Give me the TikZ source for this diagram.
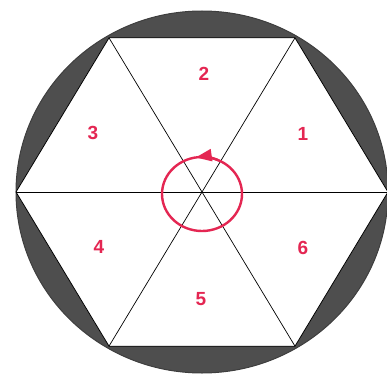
\documentclass[tikz,border=0pt]{standalone}
\usepackage{fontspec}
\setsansfont{Liberation Sans}
\usetikzlibrary{arrows.meta, calc}
\definecolor{rimgray}{RGB}{78,78,78}
\definecolor{numred}{RGB}{228,38,82}

\begin{document}
\begin{tikzpicture}[
  x=1pt, y=1pt,
  rim/.style={fill=rimgray, draw=rimgray!80!black, line width=1pt},
  hexa/.style={fill=white, draw=black, line width=0.8pt},
  spoke/.style={draw=black, line width=0.7pt},
  num/.style={text=numred, font=\fontsize{19}{19}\selectfont\sffamily\bfseries, inner sep=0pt},
  turn/.style={draw=numred, line width=2.4pt}
]
  \useasboundingbox (0,0) rectangle (387,-374);

  \coordinate (c) at (202,-192);
  % outer disc and hexagon
  \path[rim] (c) ellipse [x radius=186, y radius=181];
  \foreach \k in {0,...,5}
    \coordinate (v\k) at ($(c)+(\k*60:186 and 178)$);
  \path[hexa] (v0) -- (v1) -- (v2) -- (v3) -- (v4) -- (v5) -- cycle;
  \draw[spoke] (v0) -- (v3);
  \draw[spoke] (v1) -- (v4);
  \draw[spoke] (v2) -- (v5);

  % sector numbers
  \node[num] (n1) at (303,-134) {1};
  \node[num] (n2) at (204,-74) {2};
  \node[num] (n3) at (93,-133) {3};
  \node[num] (n4) at (99,-247) {4};
  \node[num] (n5) at (201,-299) {5};
  \node[num] (n6) at (303,-248) {6};

  % rotation sense
  \coordinate (rc) at (202,-194);
  \path[turn] (rc) ellipse [x radius=40, y radius=37];
  \draw[turn, -{Triangle[length=16pt, width=12pt]}] ($(rc)+(65:40 and 37)$)
    arc [start angle=65, end angle=99, x radius=40, y radius=37];
\end{tikzpicture}
\end{document}
